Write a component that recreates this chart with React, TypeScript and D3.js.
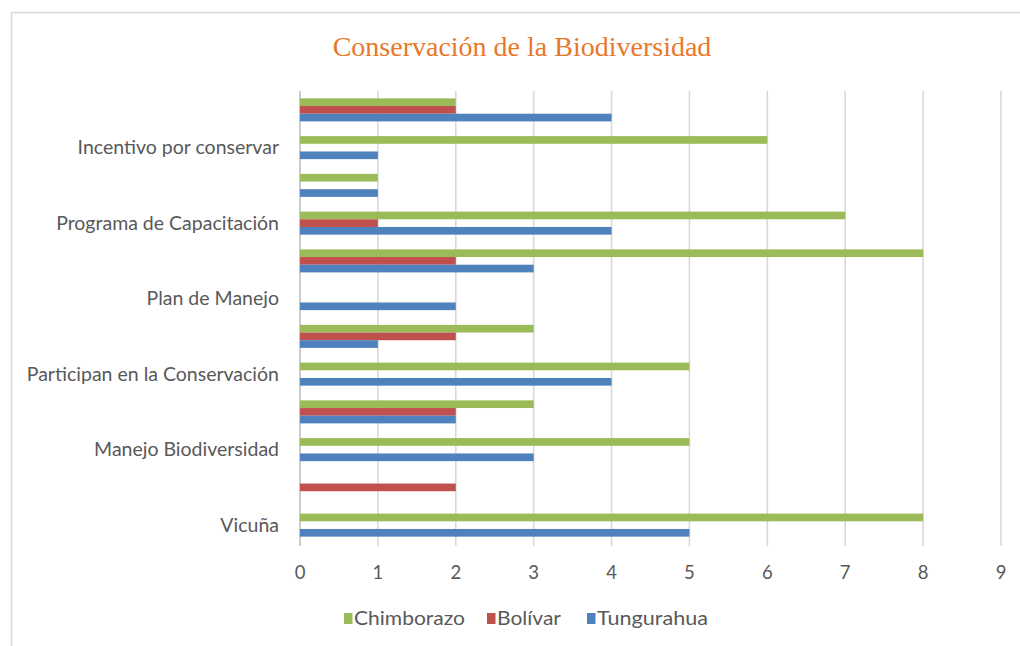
import React from "react";
import * as d3 from "d3";

// Categories listed bottom-to-top (Excel order). Unlabeled rows have hidden labels.
const categories = [
  "Vicuña",
  "",
  "Manejo Biodiversidad",
  "",
  "Participan en la Conservación",
  "",
  "Plan de Manejo",
  "",
  "Programa de Capacitación",
  "",
  "Incentivo por conservar",
  "",
];
const tungurahua = [5, 0, 3, 2, 4, 1, 2, 3, 4, 1, 1, 4];
const bolivar = [0, 2, 0, 2, 0, 2, 0, 2, 1, 0, 0, 2];
const chimborazo = [8, 0, 5, 3, 5, 3, 0, 8, 7, 1, 6, 2];
const xTicks = [0, 1, 2, 3, 4, 5, 6, 7, 8, 9];
const seriesNames = ["Chimborazo", "Bolívar", "Tungurahua"];
const seriesColors = ["#9BBB59", "#C0504D", "#4F81BD"];
const seriesValues = [chimborazo, bolivar, tungurahua];

const W = 1020;
const H = 646;
const left = 300;
const right = 1001;
const top = 91;
const bottom = 544;

export default function App() {
  const x = d3.scaleLinear().domain([0, 9]).range([left, right]);
  const idx = categories.map((_, i) => i);
  const y = d3
    .scaleBand<number>()
    .domain(idx.slice().reverse())
    .range([top, bottom])
    .paddingInner(0.39)
    .paddingOuter(0.195);
  const ys = d3.scaleBand<number>().domain([0, 1, 2]).range([0, y.bandwidth()]);
  const labelFont = "Lato, 'Open Sans', sans-serif";
  const legendItems = [
    { x: 344, tx: 354, name: seriesNames[0], color: seriesColors[0], w: 111 },
    { x: 487, tx: 497, name: seriesNames[1], color: seriesColors[1], w: 64 },
    { x: 587, tx: 597, name: seriesNames[2], color: seriesColors[2], w: 111 },
  ];
  return (
    <svg
      width={W}
      height={H}
      style={{ position: "absolute", left: 0, top: 0, background: "#fff" }}
    >
      <rect x={11.5} y={12.5} width={W} height={H} fill="#fff" stroke="#d9d9d9" strokeWidth={1.5} />
      <text
        x={522}
        y={56}
        textAnchor="middle"
        fontFamily="'Liberation Serif', 'Times New Roman', serif"
        fontSize={28}
        fill="#E8782A"
      >
        Conservación de la Biodiversidad
      </text>
      {xTicks.map((t) => (
        <g key={t}>
          <line
            x1={x(t)}
            x2={x(t)}
            y1={top}
            y2={bottom + 2}
            stroke={t === 0 ? "#bfbfbf" : "#d9d9d9"}
            strokeWidth={1.6}
          />
          <text
            x={x(t)}
            y={579}
            textAnchor="middle"
            fontFamily={labelFont}
            fontSize={18.5}
            fill="#595959"
          >
            {t}
          </text>
        </g>
      ))}
      {idx.map((i) =>
        seriesValues.map((vals, s) =>
          vals[i] > 0 ? (
            <rect
              key={`${i}-${s}`}
              x={x(0)}
              y={(y(i) as number) + (ys(s) as number)}
              width={x(vals[i]) - x(0)}
              height={ys.bandwidth()}
              fill={seriesColors[s]}
            />
          ) : null
        )
      )}
      {idx.map((i) =>
        categories[i] ? (
          <text
            key={`l${i}`}
            x={279}
            y={(y(i) as number) + y.bandwidth() / 2}
            dy="0.33em"
            textAnchor="end"
            fontFamily={labelFont}
            fontSize={19.5}
            fill="#595959"
          >
            {categories[i]}
          </text>
        ) : null
      )}
      {legendItems.map((it) => (
        <g key={it.name}>
          <rect x={it.x} y={613} width={8.5} height={11} fill={it.color} />
          <text
            x={it.tx}
            y={625}
            fontFamily={labelFont}
            fontSize={20}
            fill="#595959"
            textLength={it.w}
            lengthAdjust="spacingAndGlyphs"
          >
            {it.name}
          </text>
        </g>
      ))}
    </svg>
  );
}
